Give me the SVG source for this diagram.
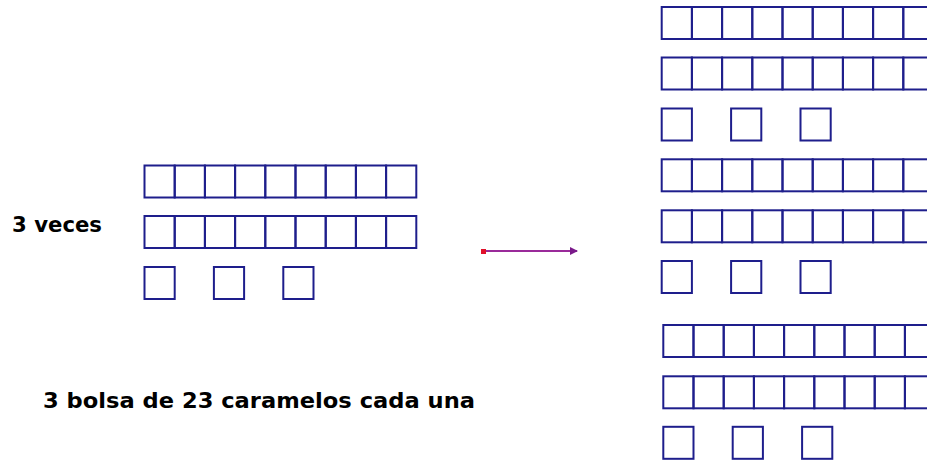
<svg xmlns="http://www.w3.org/2000/svg" xmlns:xlink="http://www.w3.org/1999/xlink" width="927" height="461" viewBox="0 0 927 461">
<style>
.c{fill:none;stroke:#1e1e8c;stroke-width:2}
.t{font-family:"DejaVu Sans",sans-serif;font-weight:bold;font-size:22px;fill:#000}
.a{stroke:#9a2a9a;stroke-width:2;fill:none}
</style>
<defs>
<rect id="sq" class="c" x="0" y="0" width="30.2" height="32"/>
<g id="row">
<use xlink:href="#sq" x="0"/><use xlink:href="#sq" x="30.2"/><use xlink:href="#sq" x="60.4"/><use xlink:href="#sq" x="90.6"/><use xlink:href="#sq" x="120.8"/><use xlink:href="#sq" x="151"/><use xlink:href="#sq" x="181.2"/><use xlink:href="#sq" x="211.4"/><use xlink:href="#sq" x="241.6"/>
</g>
<g id="three">
<use xlink:href="#sq" x="0"/><use xlink:href="#sq" x="69.4"/><use xlink:href="#sq" x="138.8"/>
</g>
<marker id="ah" viewBox="0 0 8 8" refX="7" refY="4" markerWidth="8" markerHeight="8" markerUnits="userSpaceOnUse" orient="auto">
<path d="M0,0 L8,4 L0,8 Z" fill="#7a1a8a"/>
</marker>
</defs>
<text id="label-veces" class="t" x="12" y="232" textLength="90" lengthAdjust="spacingAndGlyphs">3 veces</text>
<text id="label-bolsa" class="t" x="43" y="408" textLength="432" lengthAdjust="spacingAndGlyphs">3 bolsa de 23 caramelos cada una</text>
<g id="left-bag">
<use xlink:href="#row" x="144.5" y="165.5"/>
<use xlink:href="#row" x="144.5" y="216"/>
<use xlink:href="#three" x="144.5" y="267"/>
</g>
<g id="connectors">
<line class="a" x1="484" y1="251" x2="577" y2="251" marker-end="url(#ah)"/>
<rect x="481" y="249" width="5" height="5" fill="#e0102a"/>
</g>
<g id="right-bag-1">
<use xlink:href="#row" x="661.7" y="7"/>
<use xlink:href="#row" x="661.7" y="57.5"/>
<use xlink:href="#three" x="661.7" y="108.5"/>
</g>
<g id="right-bag-2">
<use xlink:href="#row" x="661.7" y="159.3"/>
<use xlink:href="#row" x="661.7" y="210.3"/>
<use xlink:href="#three" x="661.7" y="261"/>
</g>
<g id="right-bag-3">
<use xlink:href="#row" x="663.3" y="325"/>
<use xlink:href="#row" x="663.3" y="376.3"/>
<use xlink:href="#three" x="663.3" y="426.8"/>
</g>
</svg>
